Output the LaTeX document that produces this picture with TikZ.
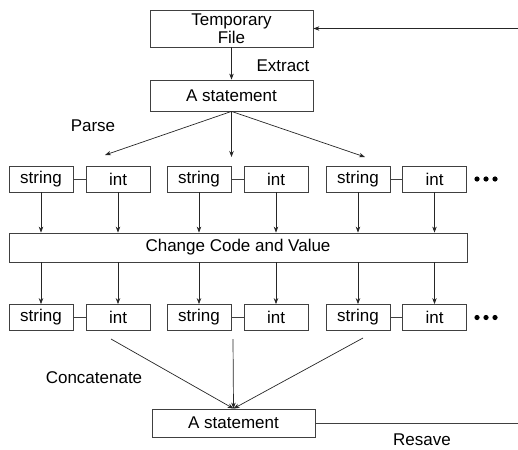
\documentclass[tikz,border=0pt]{standalone}
\usepackage{fontspec}
\setmainfont{Liberation Sans}
\usetikzlibrary{positioning,arrows.meta}
\definecolor{boxline}{HTML}{404040}

\tikzset{
  box/.style={draw=boxline, fill=white, line width=0.8pt, inner sep=0pt, minimum height=26pt, font=\fontsize{17}{18}\selectfont},
  cell/.style={box, minimum width=64pt},
  arr/.style={-{Stealth[length=6pt,width=4.5pt]}, draw=black!85, line width=0.7pt},
  lbl/.style={font=\fontsize{17}{18}\selectfont}
}

\begin{document}
\begin{tikzpicture}[x=1pt,y=-1pt]
\useasboundingbox (0,0) rectangle (518,449);
% top part
\node[box, minimum width=163pt, minimum height=37pt, align=center] (tmp) at (231.5,28.5) {Temporary\\File};
\node[box, minimum width=163pt, minimum height=31pt] (stm) at (231.5,95.5) {A statement};
\draw[arr] (tmp) -- (stm);
\node[lbl] (extract) at (283,66) {Extract};
\node[lbl] (parse) at (93,126) {Parse};
\coordinate (p1) at (105,155);
\coordinate (p2) at (231.5,157);
\coordinate (p3) at (365,157);
\foreach \n in {1,2,3}{
  \draw[arr] (stm.south) -- (p\n);
}
% change box
\node[box, minimum width=458pt, minimum height=29pt] (chg) at (238,247.5) {Change Code and Value};
% string / int pairs
\foreach \n/\sx/\ix in {1/41/118,2/199/276,3/358/434.5}{
  \node[cell] (ts\n) at (\sx,179) {string};
  \node[cell] (ti\n) at (\ix,179) {int};
  \draw[boxline, line width=0.8pt] (ts\n) -- (ti\n);
  \draw[arr] (ts\n.south) -- (ts\n.south |- chg.north);
  \draw[arr] (ti\n.south) -- (ti\n.south |- chg.north);
  \node[cell] (bs\n) at (\sx,317.5) {string};
  \node[cell] (bi\n) at (\ix,317.5) {int};
  \draw[boxline, line width=0.8pt] (bs\n) -- (bi\n);
  \draw[arr] (bs\n.north |- chg.south) -- (bs\n.north);
  \draw[arr] (bi\n.north |- chg.south) -- (bi\n.north);
}
\foreach \d in {477,486,495}{
  \fill (\d,179) circle (2.6pt);
  \fill (\d,317.5) circle (2.6pt);
}
% bottom part
\node[box, minimum width=163pt, minimum height=28pt] (fin) at (233.5,423) {A statement};
\node[lbl] (concat) at (94,378) {Concatenate};
\node[lbl] (resave) at (422,440) {Resave};
\coordinate (c1) at (111,339);
\coordinate (c2) at (233,339);
\coordinate (c3) at (363,338);
\foreach \n in {1,2,3}{
  \draw[arr] (c\n) -- (fin.north);
}
\coordinate (r1) at (518,423);
\coordinate (r2) at (518,28.5);
\draw[boxline, line width=0.8pt] (fin.east) -- (r1);
\draw[arr] (r2) -- (tmp.east);
\end{tikzpicture}
\end{document}
